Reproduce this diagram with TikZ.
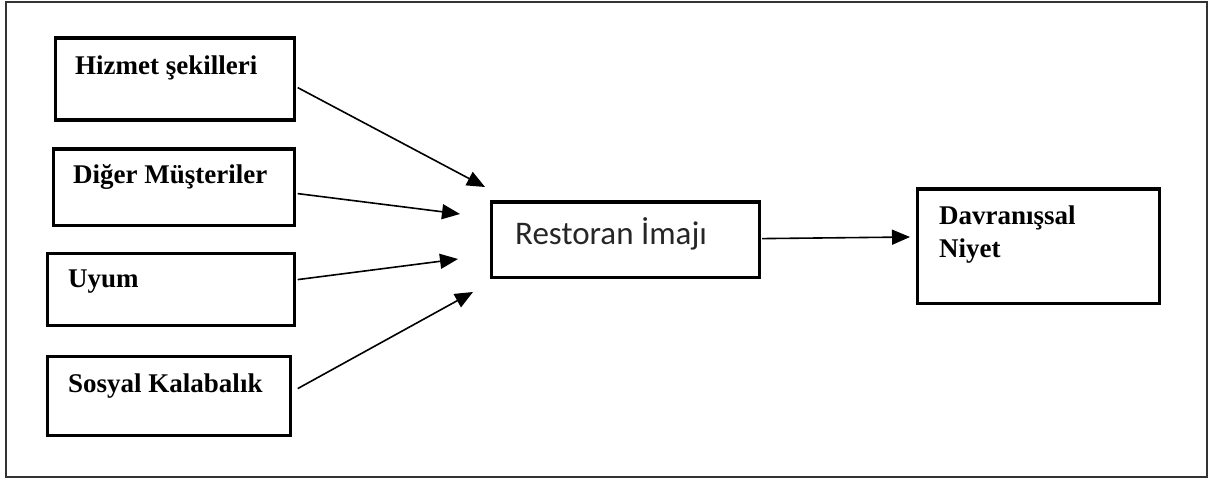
\documentclass[tikz,border=0pt]{standalone}
\usepackage{fontspec}
\setmainfont{Liberation Serif}
\newfontfamily\labelsans{Carlito}
\usetikzlibrary{arrows.meta}
\begin{document}
\begin{tikzpicture}[x=1pt,y=-1pt,
  box/.style={draw, line width=3.2pt, inner sep=0pt, anchor=north west},
  lbl/.style={inner sep=0pt, anchor=base west, font=\fontsize{27}{33}\selectfont\bfseries},
  slbl/.style={inner sep=0pt, anchor=base west, font=\fontsize{33}{40}\selectfont\labelsans\color{black!85}},
  link/.style={line width=1.6pt, -{Triangle[length=18pt,width=15pt]}}]
  \useasboundingbox (0,0) rectangle (1212,481);
  % outer frame
  \draw[line width=2pt, black!80] (6,2) rectangle (1207,477);

  % factor boxes
  \node[box, minimum width=239pt, minimum height=82pt] (hz) at (53.5,36.5) {};
  \node[box, minimum width=241pt, minimum height=76pt] (dm) at (51.5,147.5) {};
  \node[box, minimum width=247pt, minimum height=72pt] (uy) at (45.5,251.5) {};
  \node[box, minimum width=243pt, minimum height=79pt] (sk) at (45.5,354.5) {};
  \node[box, minimum width=268pt, minimum height=75pt] (ri) at (489.5,200.5) {};
  \node[box, minimum width=242pt, minimum height=114pt] (dn) at (915.5,187.5) {};

  % labels
  \node[lbl] (thz) at (75,75) {Hizmet şekilleri};
  \node[lbl] (tdm) at (73,184) {Diğer Müşteriler};
  \node[lbl] (tuy) at (68,287) {Uyum};
  \node[lbl] (tsk) at (68,392) {Sosyal Kalabalık};
  \node[slbl] (tri) at (515,244) {Restoran İmajı};
  \node[lbl] (tdn1) at (939,224) {Davranışsal};
  \node[lbl] (tdn2) at (939,257) {Niyet};

  % arrow tips
  \coordinate (a1) at (485,187);
  \coordinate (a2) at (460,214);
  \coordinate (a3) at (458,259);
  \coordinate (a4) at (473,292);
  \coordinate (a5) at (910,237);

  \draw[link] ([yshift=-8.5pt,xshift=2pt]hz.east) -- (a1);
  \draw[link] ([yshift=-6.5pt,xshift=2pt]dm.east) -- (a2);
  \draw[link] ([yshift=9.5pt,xshift=2pt]uy.east) -- (a3);
  \draw[link] ([yshift=7pt,xshift=6pt]sk.east) -- (a4);
  \draw[link] ([yshift=1pt,xshift=1.5pt]ri.east) -- (a5);
\end{tikzpicture}
\end{document}
